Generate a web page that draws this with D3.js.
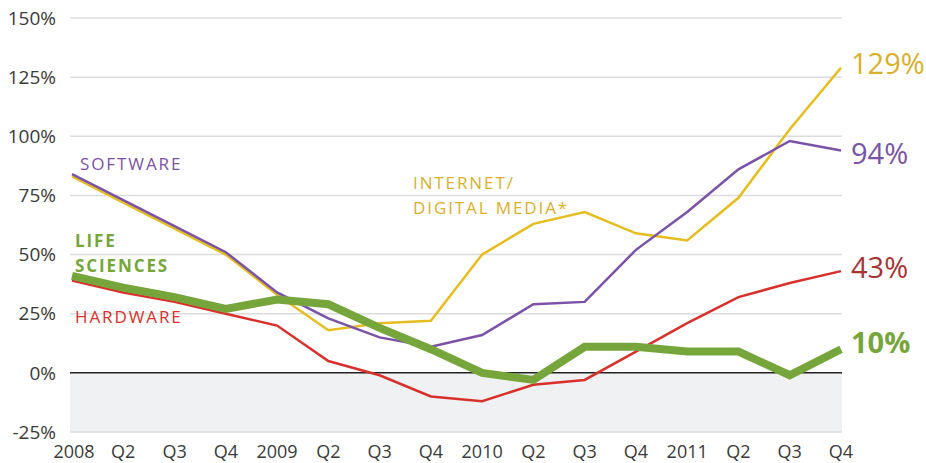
<!DOCTYPE html>
<html>
<head>
<meta charset="utf-8">
<script src="https://cdn.jsdelivr.net/npm/d3@7"></script>
<style>
  body { margin: 0; background: #fff; }
  svg { display: block; font-family: "Open Sans", sans-serif; }
</style>
</head>
<body>
<svg id="chart" width="926" height="463"></svg>
<script>
// quarters 2008 Q1 .. 2011 Q4
const quarters = ["2008", "Q2", "Q3", "Q4", "2009", "Q2", "Q3", "Q4", "2010", "Q2", "Q3", "Q4", "2011", "Q2", "Q3", "Q4"];
const yTicks = [-25, 0, 25, 50, 75, 100, 125, 150];

const software = [84, 73, 62, 51, 34, 23, 15, 11, 16, 29, 30, 52, 68, 86, 98, 94];
const internet = [83, 72, 61, 50, 33, 18, 21, 22, 50, 63, 68, 59, 56, 74, 103, 129];
const hardware = [39, 34, 30, 25, 20, 5, -1, -10, -12, -5, -3, 9, 21, 32, 38, 43];
const lifeSci = [41, 36, 32, 27, 31, 29, 19, 10, 0, -3, 11, 11, 9, 9, -1, 10];

const svg = d3.select("#chart");
const x = d3.scalePoint().domain(d3.range(quarters.length)).range([72, 841]);
const y = d3.scaleLinear().domain([-25, 150]).range([432, 18]);

// shaded negative band
svg.append("rect")
    .attr("x", 70).attr("y", y(0))
    .attr("width", 772).attr("height", y(-25) - y(0))
    .attr("fill", "#f0f1f3");

svg.selectAll(".grid")
    .data(yTicks.filter(t => t !== 0))
    .join("line")
    .attr("class", "grid")
    .attr("x1", 70).attr("x2", 842)
    .attr("y1", d => y(d)).attr("y2", d => y(d))
    .attr("stroke", "#dcdcdc")
    .attr("stroke-width", 1.5);

svg.append("line")
    .attr("x1", 70).attr("x2", 842)
    .attr("y1", y(0)).attr("y2", y(0))
    .attr("stroke", "#222")
    .attr("stroke-width", 1.5);

svg.selectAll(".ylab")
    .data(yTicks)
    .join("text")
    .attr("class", "ylab")
    .attr("x", 56)
    .attr("y", d => y(d))
    .attr("dy", "0.35em")
    .attr("text-anchor", "end")
    .attr("font-size", 19)
    .attr("fill", "#3a3a3a")
    .text(d => d + "%");

svg.selectAll(".xlab")
    .data(quarters)
    .join("text")
    .attr("class", "xlab")
    .attr("x", (d, i) => x(i) + (i === 0 ? 2 : 0))
    .attr("y", 458)
    .attr("text-anchor", "middle")
    .attr("font-size", 18)
    .attr("fill", "#3a3a3a")
    .text(d => d);

const line = d3.line().x((d, i) => x(i)).y(d => y(d));

const series = [
    { values: internet, color: "#e6bd1f", width: 2.5 },
    { values: software, color: "#7a52a6", width: 2.5 },
    { values: hardware, color: "#d8312b", width: 2.5 },
    { values: lifeSci, color: "#76a63b", width: 8 }
];

svg.selectAll(".series")
    .data(series)
    .join("path")
    .attr("class", "series")
    .attr("d", d => line(d.values))
    .attr("fill", "none")
    .attr("stroke", d => d.color)
    .attr("stroke-width", d => d.width)
    .attr("stroke-linejoin", "miter");

// inline series labels
const names = [
    { lines: ["SOFTWARE"], x: 80, y: 170, color: "#7a52a6", bold: false },
    { lines: ["LIFE", "SCIENCES"], x: 75, y: 247, color: "#76a63b", bold: true },
    { lines: ["HARDWARE"], x: 75, y: 323, color: "#d8312b", bold: false },
    { lines: ["INTERNET/", "DIGITAL MEDIA*"], x: 413, y: 189, color: "#d9b02c", bold: false }
];

names.forEach(n => {
    svg.append("text")
        .attr("x", n.x)
        .attr("y", n.y)
        .attr("font-size", 17)
        .attr("letter-spacing", 1.9)
        .attr("font-weight", n.bold ? 700 : 400)
        .attr("fill", n.color)
        .selectAll("tspan")
        .data(n.lines)
        .join("tspan")
        .attr("x", n.x)
        .attr("dy", (d, i) => i === 0 ? 0 : 24.5)
        .text(d => d);
});

// end values
const ends = [
    { v: internet[15], y: 74, color: "#d9b02c", bold: false },
    { v: software[15], y: 164, color: "#7a52a6", bold: false },
    { v: hardware[15], y: 278, color: "#a83333", bold: false },
    { v: lifeSci[15], y: 353, color: "#76a63b", bold: true }
];

svg.selectAll(".endlab")
    .data(ends)
    .join("text")
    .attr("class", "endlab")
    .attr("x", 851)
    .attr("y", d => d.y)
    .attr("font-size", 29)
    .attr("font-weight", d => d.bold ? 700 : 400)
    .attr("fill", d => d.color)
    .text(d => d.v + "%");
</script>
</body>
</html>
